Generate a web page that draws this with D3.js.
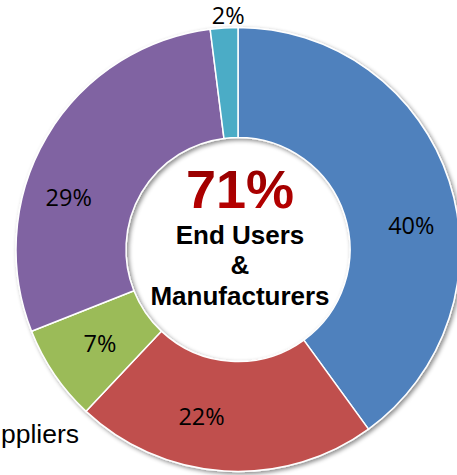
<!DOCTYPE html>
<html>
<head>
<meta charset="utf-8">
<script src="https://cdn.jsdelivr.net/npm/d3@7"></script>
<style>
  html, body { margin: 0; padding: 0; background: #fff; overflow: hidden; }
  svg { display: block; }
</style>
</head>
<body>
<svg id="chart" width="457" height="475"></svg>
<script>
// ---- data ----
const categories = ["End Users", "Manufacturers", "Suppliers", "Distributors", "Other"];
const values = [40, 22, 7, 29, 2];
const labels = ["40%", "22%", "7%", "29%", "2%"];
const colors = ["#4f81bd", "#c0504d", "#9bbb59", "#8064a2", "#4bacc6"];
const centerValue = "71%";
const centerLines = ["End Users", "&", "Manufacturers"];
const sideLabel = "Suppliers";

// ---- layout ----
const W = 457, H = 475;
const cx = 238, cy = 249.5;
const outerR = 222, innerR = 112;
// label placement (radius, angle nudge in degrees relative to slice middle)
const labelLayout = [
  { r: 175, nudge: 10 },
  { r: 171, nudge: 8.7 },
  { r: 167, nudge: 0 },
  { r: 177, nudge: -13.6 },
  { r: 234, nudge: 1.2 }
];

const svg = d3.select("#chart");
const defs = svg.append("defs");
const f = defs.append("filter").attr("id", "shadow")
  .attr("x", "-10%").attr("y", "-10%").attr("width", "130%").attr("height", "130%");
f.append("feDropShadow").attr("dx", 2).attr("dy", 2).attr("stdDeviation", 2)
  .attr("flood-color", "#000").attr("flood-opacity", 0.45);

const g = svg.append("g").attr("transform", `translate(${cx},${cy})`);

const pie = d3.pie().sort(null).value(d => d)
  .startAngle(0).endAngle(2 * Math.PI);
const arcs = pie(values);
const arc = d3.arc().innerRadius(innerR).outerRadius(outerR);

g.append("g").attr("filter", "url(#shadow)")
  .selectAll("path").data(arcs).join("path")
  .attr("d", arc)
  .attr("fill", (d, i) => colors[i])
  .attr("stroke", "#fff")
  .attr("stroke-width", 1.5)
  .attr("stroke-linejoin", "round");

// slice labels
g.append("g").selectAll("text").data(arcs).join("text")
  .attr("transform", (d, i) => {
    const a = (d.startAngle + d.endAngle) / 2 + labelLayout[i].nudge * Math.PI / 180;
    const r = labelLayout[i].r;
    return `translate(${r * Math.sin(a)},${-r * Math.cos(a)})`;
  })
  .attr("text-anchor", "middle")
  .attr("dy", "0.36em")
  .attr("font-family", "'Open Sans', sans-serif")
  .attr("font-size", 23.5)
  .attr("fill", "#000")
  .text((d, i) => labels[i]);

// center text
const grad = defs.append("linearGradient").attr("id", "redgrad")
  .attr("x1", 0).attr("y1", 0).attr("x2", 0).attr("y2", 1);
grad.append("stop").attr("offset", "0%").attr("stop-color", "#8e0000");
grad.append("stop").attr("offset", "100%").attr("stop-color", "#c00000");

const ct = svg.append("g").attr("transform", `translate(${cx + 2},0)`)
  .attr("font-family", "'Liberation Sans', Arial, sans-serif")
  .attr("font-weight", "bold")
  .attr("text-anchor", "middle");
ct.append("text").attr("y", 208).attr("font-size", 54)
  .attr("fill", "url(#redgrad)").text(centerValue);
const baselines = [244, 274, 305];
ct.selectAll("text.l").data(centerLines).join("text")
  .attr("class", "l")
  .attr("y", (d, i) => baselines[i])
  .attr("font-size", 26)
  .attr("fill", "#000")
  .text(d => d);

// cut-off side label
svg.append("text")
  .attr("x", 79).attr("y", 443)
  .attr("text-anchor", "end")
  .attr("font-family", "'Liberation Sans', Arial, sans-serif")
  .attr("font-size", 26.5)
  .attr("fill", "#000")
  .text(sideLabel);
</script>
</body>
</html>
